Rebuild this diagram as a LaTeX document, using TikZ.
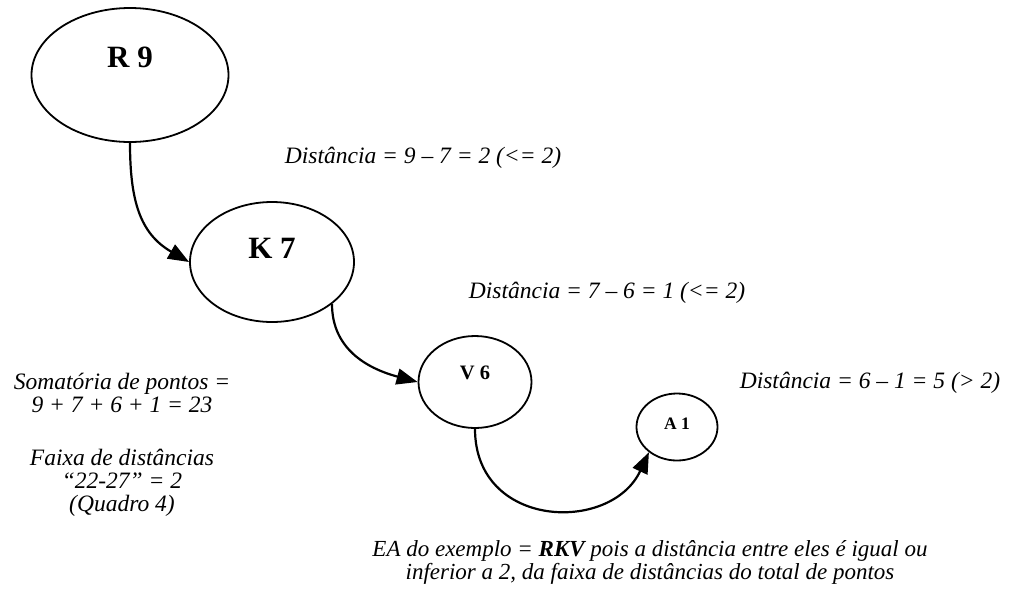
\documentclass[tikz,border=0pt]{standalone}
\usepackage{fontspec}
\setmainfont{Liberation Serif}
\usetikzlibrary{shapes.geometric,arrows.meta}
\begin{document}
\begin{tikzpicture}[x=1pt,y=-1pt,
  ellip/.style={draw,line width=1.8pt,ellipse,inner sep=0pt},
  big/.style={font=\bfseries\fontsize{31}{31}\selectfont,inner sep=0pt},
  mid/.style={font=\bfseries\fontsize{20.5}{20.5}\selectfont,inner sep=0pt},
  sml/.style={font=\bfseries\fontsize{17.5}{17.5}\selectfont,inner sep=0pt},
  note/.style={font=\itshape\fontsize{23.5}{23}\selectfont,inner sep=0pt,align=center},
  arr/.style={line width=2.2pt,-{Triangle[length=21pt,width=16pt]}}]
\useasboundingbox (0,0) rectangle (1010,590);
\node[ellip,minimum width=197pt,minimum height=134pt] (R) at (130,75) {};
\node[big] (Rt) at (130,57) {R 9};
\node[ellip,minimum width=164pt,minimum height=120pt] (K) at (272,262) {};
\node[big] (Kt) at (272,248) {K 7};
\node[ellip,minimum width=113pt,minimum height=92pt] (V) at (475,382) {};
\node[mid] (Vt) at (475,373) {V 6};
\node[ellip,minimum width=81pt,minimum height=67pt] (A) at (677,427) {};
\node[sml] (At) at (677,424) {A 1};
\draw[arr] (R.south) to[out=-90,in=150,looseness=1.1] (K.west);
\draw[arr] (K.-35) to[out=-90,in=165,looseness=1.05] (V.west);
\draw[arr] (V.south) to[out=-90,in=-115,out distance=100pt,in distance=90pt] (A.-138);
\node[note] (d1) at (423,158) {Distância = 9 – 7 = 2 (<= 2)};
\node[note] (d2) at (607,293) {Distância = 7 – 6 = 1 (<= 2)};
\node[note] (d3) at (870,383) {Distância = 6 – 1 = 5 (> 2)};
\node[note] (s1) at (122,393) {Somatória de pontos =\\9 + 7 + 6 + 1 = 23};
\node[note] (s2) at (122,483) {Faixa de distâncias\\“22-27” = 2\\(Quadro 4)};
\node[note,font=\itshape\fontsize{23}{23}\selectfont] (ea) at (650,562) {EA do exemplo = \textbf{RKV} pois a distância entre eles é igual ou\\inferior a 2, da faixa de distâncias do total de pontos};
\end{tikzpicture}
\end{document}
